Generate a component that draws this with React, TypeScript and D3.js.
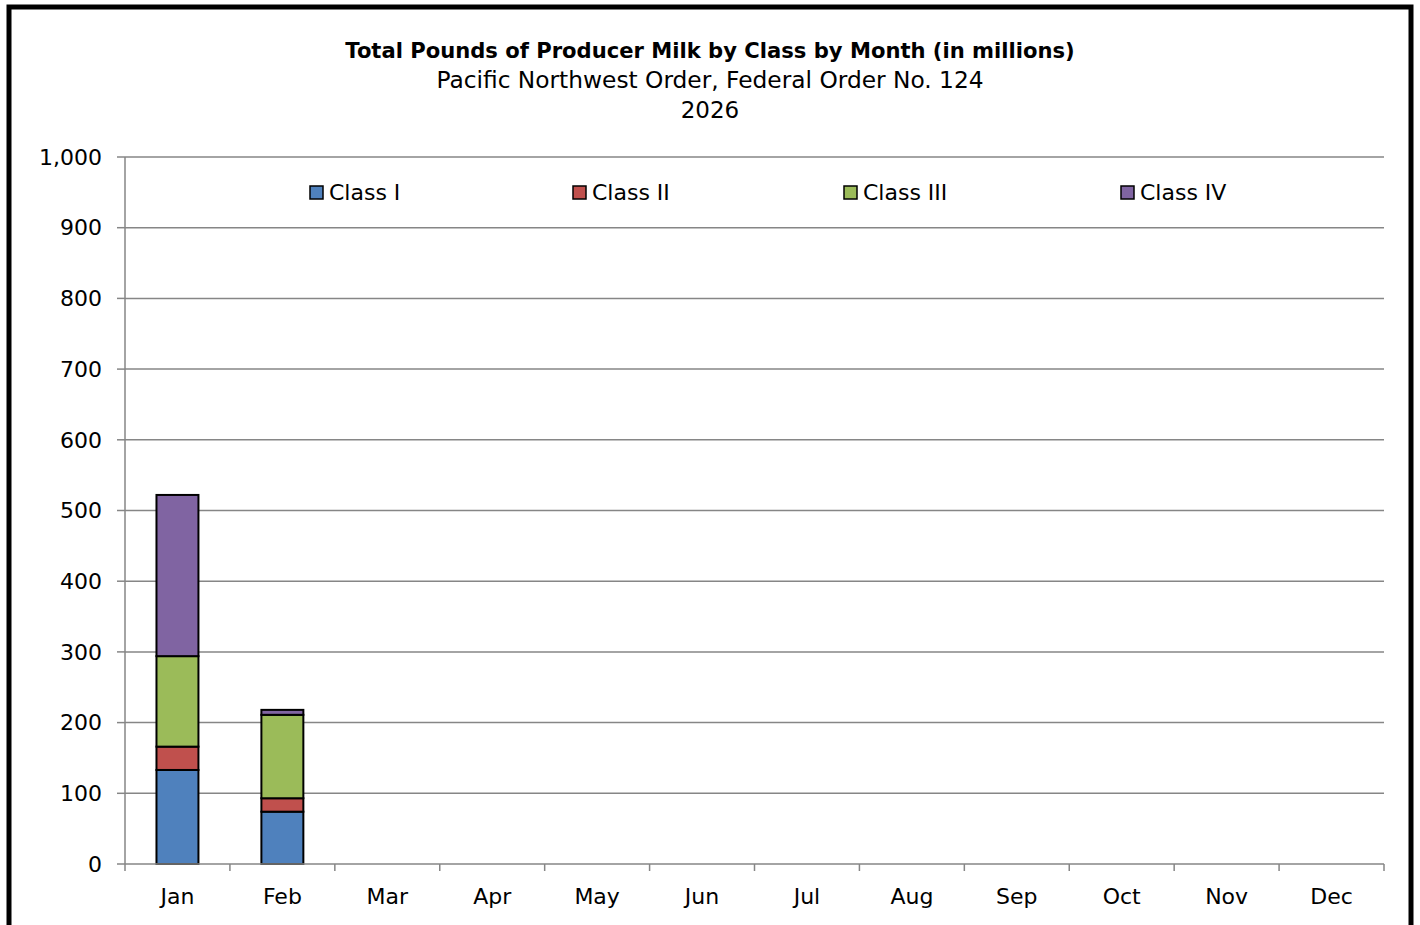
import React from 'react';
import * as d3 from 'd3';

const months = ['Jan', 'Feb', 'Mar', 'Apr', 'May', 'Jun', 'Jul', 'Aug', 'Sep', 'Oct', 'Nov', 'Dec'];
const classNames = ['Class I', 'Class II', 'Class III', 'Class IV'];
const classColors = ['#4F81BD', '#C0504D', '#9BBB59', '#8064A2'];
// Values in millions of pounds, only Jan and Feb reported so far
const classI = [133, 74];
const classII = [33, 19];
const classIII = [128, 118];
const classIV = [228, 7];
const yTicks = [0, 100, 200, 300, 400, 500, 600, 700, 800, 900, 1000];

const titleLines = [
  'Total Pounds of Producer Milk by Class by Month (in millions)',
  'Pacific Northwest Order, Federal Order No. 124',
  '2026',
];
const titleSizes = [21.1, 23.3, 23];

const width = 1420;
const height = 925;
const margin = { top: 157, right: 36, bottom: 61, left: 125 };
const font = '"DejaVu Sans", sans-serif';
const gridColor = '#868686';

type Row = { month: string; [k: string]: number | string };

const App: React.FC = () => {
  const chartWidth = width - margin.left - margin.right;
  const chartHeight = height - margin.top - margin.bottom;

  const x = d3.scaleBand<string>().domain(months).range([0, chartWidth]).paddingInner(0.6).paddingOuter(0.3);
  const band = d3.scaleBand<string>().domain(months).range([0, chartWidth]);
  const y = d3.scaleLinear().domain([0, 1000]).range([chartHeight, 0]);

  const series = [classI, classII, classIII, classIV];
  const rows: Row[] = classI.map((_, i) => {
    const r: Row = { month: months[i] };
    classNames.forEach((c, k) => { r[c] = series[k][i]; });
    return r;
  });
  const stacked = d3.stack<Row>().keys(classNames)(rows);

  const fmt = d3.format(',');
  const legendX = [310, 573, 844, 1121];

  return (
    <svg width={width} height={height} style={{ position: 'absolute', left: 0, top: 0 }} fontFamily={font}>
      <rect x={0} y={0} width={width} height={height} fill="#fff" />
      <rect x={9} y={7} width={1402} height={940} fill="none" stroke="#000" strokeWidth={5} />

      {titleLines.map((t, i) => (
        <text
          key={t}
          x={710}
          y={58 + i * 30}
          textAnchor="middle"
          fontSize={titleSizes[i]}
          fontWeight={i === 0 ? 'bold' : 'normal'}
          fill="#000"
        >
          {t}
        </text>
      ))}

      <g transform={`translate(${margin.left},${margin.top})`}>
        {/* gridlines and y ticks */}
        {yTicks.map((t) => (
          <g key={t}>
            {t > 0 && (
              <line x1={0} x2={chartWidth} y1={y(t)} y2={y(t)} stroke={gridColor} strokeWidth={1.5} />
            )}
            <line x1={-8} x2={0} y1={y(t)} y2={y(t)} stroke={gridColor} strokeWidth={1.5} />
            <text x={-23} y={y(t)} dy="0.35em" textAnchor="end" fontSize={22} fill="#000">
              {fmt(t)}
            </text>
          </g>
        ))}

        {/* bars */}
        {stacked.map((s, k) => (
          <g key={s.key} fill={classColors[k]}>
            {s.map((d, i) => (
              <rect
                key={i}
                x={x(months[i])}
                y={y(d[1])}
                width={x.bandwidth()}
                height={y(d[0]) - y(d[1])}
                stroke="#000"
                strokeWidth={2}
              />
            ))}
          </g>
        ))}

        {/* axes */}
        <line x1={0} x2={0} y1={0} y2={chartHeight} stroke={gridColor} strokeWidth={1.5} />
        <line x1={0} x2={chartWidth} y1={chartHeight} y2={chartHeight} stroke={gridColor} strokeWidth={1.5} />
        {months.map((m) => (
          <line
            key={`t${m}`}
            x1={band(m)}
            x2={band(m)}
            y1={chartHeight}
            y2={chartHeight + 7}
            stroke={gridColor}
            strokeWidth={1.5}
          />
        ))}
        <line x1={chartWidth} x2={chartWidth} y1={chartHeight} y2={chartHeight + 7} stroke={gridColor} strokeWidth={1.5} />
        {months.map((m) => (
          <text
            key={m}
            x={(band(m) ?? 0) + band.bandwidth() / 2}
            y={chartHeight + 40}
            textAnchor="middle"
            fontSize={22}
            fill="#000"
          >
            {m}
          </text>
        ))}
      </g>

      {/* legend */}
      {classNames.map((c, k) => (
        <g key={c} transform={`translate(${legendX[k]},186)`}>
          <rect x={0} y={0} width={13} height={13} fill={classColors[k]} stroke="#000" strokeWidth={1.5} />
          <text x={19} y={14} fontSize={22} fill="#000">{c}</text>
        </g>
      ))}
    </svg>
  );
};

export default App;
